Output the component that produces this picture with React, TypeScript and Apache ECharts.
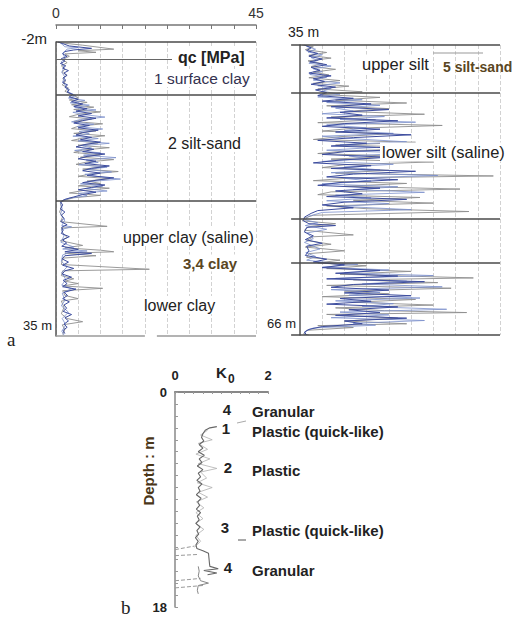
import React, { useEffect, useRef } from 'react';
import * as echarts from 'echarts';

const FONT = '"Liberation Sans", Arial, sans-serif';

// ---- panel a (left): CPT qc profile, depth -2 .. 35 m
const qcTicks = [0, 5, 10, 15, 20, 25, 30, 35, 40, 45];
const qcShownLabels = [0, 45];
const leftDepthRange = [-2, 35];
const leftLayerDepths = [-2, 4.67, 18];
const leftPointerDepth = 0.2;
const leftPointerEndQc = 26.1;
const leftBottomSegments = [[0, 20], [22.7, 45]];

const leftGray = [
  [0.3, -2], [1, -1.9], [6, -1.6], [13, -1.1], [5, -0.9], [9, -0.7], [2, -0.5], [3, -0.2], [1.5, 0.2], [2.5, 0.6],
  [1.2, 1], [2, 1.4], [1.4, 1.8], [2.4, 2.2], [1.5, 2.6], [2.1, 3], [1.4, 3.4], [2.8, 3.8], [2, 4.2], [3.5, 4.6],
  [5, 5], [3, 5.3], [7, 5.6], [3.5, 5.9], [8.5, 6.2], [4, 6.5], [10, 6.8], [5, 7.1], [3, 7.4], [8, 7.7],
  [4, 8], [10.5, 8.3], [5, 8.6], [3.5, 8.9], [9, 9.2], [4, 9.5], [11, 9.8], [6, 10.1], [3.5, 10.4], [9.5, 10.7],
  [5, 11], [12, 11.3], [6, 11.6], [4, 11.9], [10, 12.2], [5.5, 12.5], [13, 12.8], [7, 13.1], [4.5, 13.4], [11, 13.7],
  [6, 14], [14, 14.3], [8, 14.6], [5, 14.9], [12, 15.2], [7, 15.5], [10, 15.8], [5, 16.1], [12, 16.4], [6, 16.7],
  [3, 17], [10, 17.3], [4, 17.6], [2, 17.9], [1, 18.2], [1.2, 18.8], [0.8, 19.4], [1.5, 20], [1, 20.6], [11.5, 21.2],
  [1.2, 21.4], [1.5, 22], [2.5, 22.6], [1, 23], [6, 23.6], [2, 23.9], [10, 24.2], [13, 24.4], [2, 24.6], [9, 24.9],
  [1.5, 25.2], [1.2, 26], [21, 26.6], [1.5, 26.8], [1.2, 27.4], [4, 27.8], [2, 28.1], [5, 28.4], [1.5, 28.7], [10.5, 29],
  [1.5, 29.3], [2, 29.9], [5, 30.3], [1.2, 30.6], [1.8, 31.4], [1.2, 32.2], [2.5, 32.8], [6, 33.2], [1.4, 33.6], [2, 34.2],
  [1.5, 34.8],
];

const leftLight = [
  [1, -1.9], [2, -1.4], [5, -1.3], [2.5, -1.1], [1.5, -0.6], [2, 0], [1.2, 0.5], [1.8, 1.2], [1.3, 1.8], [2, 2.4],
  [1.5, 3], [2.3, 3.6], [2.8, 4.3], [4.5, 4.75], [2.8, 5.05], [6.5, 5.35], [3.2, 5.65], [7.5, 5.95], [4.2, 6.25], [9, 6.55],
  [3.8, 6.85], [6.5, 7.15], [11, 7.45], [5.5, 7.75], [3.5, 8.05], [8.5, 8.35], [4.8, 8.65], [10.5, 8.95], [5.2, 9.25], [7.5, 9.55],
  [3.8, 9.85], [9.5, 10.15], [5, 10.45], [12, 10.75], [6, 11.05], [8, 11.35], [4.2, 11.65], [10, 11.95], [6.2, 12.25], [13.5, 12.55],
  [6.8, 12.85], [9.5, 13.15], [5.2, 13.45], [11.5, 13.75], [7, 14.05], [12.5, 14.35], [6.5, 14.65], [9.5, 14.95], [14.5, 15.25], [8, 15.55],
  [5.5, 15.85], [10.5, 16.15], [6.8, 16.45], [11.5, 16.75], [5, 17.05], [7, 17.35], [3, 17.65], [1.5, 17.95], [1, 18.3], [1.4, 19],
  [1, 19.7], [2, 20.4], [1.3, 21.1], [3.5, 21.25], [1.2, 21.6], [1.8, 22.4], [1.1, 23.2], [4, 23.8], [1.5, 24.05], [7, 24.3],
  [3, 24.5], [1.5, 24.8], [1.2, 25.6], [2.5, 26.3], [1.3, 27], [2.2, 27.9], [1.3, 28.6], [3.5, 29.05], [1.4, 29.6], [2, 30.5],
  [1.2, 31.2], [2.8, 32], [1.4, 32.8], [2.2, 33.6], [1.3, 34.4], [1.8, 34.9],
];

const leftBlue = [
  [0.5, -2], [1.5, -1.8], [3, -1.5], [8, -1.2], [4, -1.0], [2, -0.8], [1.5, -0.5], [2.5, -0.2], [1.2, 0.1], [2, 0.4],
  [1, 0.7], [2.2, 1], [1.5, 1.3], [2.8, 1.6], [1.8, 1.9], [2.5, 2.2], [1.6, 2.5], [2.2, 2.8], [1.5, 3.1], [2.6, 3.4],
  [2, 3.7], [3, 4.0], [2.5, 4.3], [3.8, 4.6], [3, 4.9], [5, 5.2], [3.5, 5.5], [6, 5.8], [4, 6.1], [7, 6.4],
  [4.5, 6.7], [8, 7.0], [5, 7.3], [9, 7.6], [6, 7.9], [4, 8.2], [7.5, 8.5], [5, 8.8], [9.5, 9.1], [6, 9.4],
  [4.5, 9.7], [8, 10], [5.5, 10.3], [10, 10.6], [6.5, 10.9], [4.5, 11.2], [8.5, 11.5], [6, 11.8], [11, 12.1], [7, 12.4],
  [5, 12.7], [9, 13], [6.5, 13.3], [12, 13.6], [8, 13.9], [6, 14.2], [10, 14.5], [7, 14.8], [13, 15.1], [9, 15.4],
  [6, 15.7], [11, 16], [8, 16.3], [5, 16.6], [9, 16.9], [6, 17.2], [4, 17.5], [2, 17.8], [1, 18.1], [1.5, 18.5],
  [1, 19], [2, 19.4], [1.2, 19.8], [1.8, 20.2], [1.1, 20.6], [2.5, 21], [1.3, 21.3], [1.6, 21.7], [1.2, 22.1], [3, 22.5],
  [1.5, 22.9], [2.4, 23.3], [1.3, 23.7], [5, 24.1], [2, 24.4], [8, 24.6], [2, 24.9], [1.4, 25.3], [2.8, 25.7], [1.5, 26.1],
  [4, 26.5], [2, 26.8], [1.4, 27.2], [3.5, 27.6], [1.6, 28], [2.5, 28.4], [1.5, 28.8], [4.5, 29.1], [1.8, 29.5], [2.6, 29.9],
  [1.5, 30.3], [3, 30.7], [1.8, 31.1], [2.4, 31.5], [1.6, 31.9], [3.5, 32.3], [2, 32.7], [2.8, 33.1], [1.8, 33.5], [2.5, 33.9],
  [1.6, 34.3], [2, 34.7],
];

// ---- panel a (right): depth 35 .. 66 m
const rightDepthRange = [35, 66];
const rightQcMin = -2;
const rightLayerDepths = [35, 40.1, 53.6, 58.3, 66];

const rightGray = [
  [0.5, 35], [3, 35.2], [1.2, 35.5], [6, 35.8], [2, 36.1], [7, 36.4], [1.8, 36.7], [5, 37], [2.5, 37.3], [8, 37.6],
  [3, 37.9], [6.5, 38.2], [2, 38.5], [9, 38.8], [3, 39.1], [11, 39.4], [4, 39.7], [14, 40],
  [5, 40.3], [18, 40.6], [8, 40.9], [24, 41.2], [6, 41.5], [20, 41.8], [10, 42.1], [28, 42.4], [7, 42.7], [17, 43],
  [4, 43.3], [32, 43.6], [12, 43.9], [5, 44.2], [20, 44.5], [9, 44.8], [3, 45.1], [26, 45.4], [8, 45.7], [34, 46],
  [11, 46.3], [4, 46.6], [22, 46.9], [7, 47.2], [30, 47.5], [10, 47.8], [5, 48.1], [20, 48.4], [8, 48.7], [43.5, 49],
  [12, 49.2], [3, 49.5], [24, 49.8], [10, 50.1], [36, 50.4], [7, 50.7], [4, 51], [27, 51.3], [12, 51.6], [30, 51.9],
  [6, 52.2], [15, 52.5], [38, 52.8], [3, 53.2], [1, 53.5],
  [0.5, 53.8], [8, 54.1], [2, 54.4], [1, 54.8], [12, 55.3], [3, 55.5], [1.5, 55.9], [7, 56.3], [1.2, 56.6], [10, 57],
  [2, 57.3], [1.5, 57.7], [9, 58], [4, 58.3],
  [15, 58.6], [6, 58.9], [25, 59.2], [9, 59.5], [39, 59.9], [12, 60.1], [31, 60.4], [6, 60.7], [34, 61], [10, 61.3],
  [20, 61.6], [5, 61.9], [26, 62.2], [12, 62.5], [30, 62.8], [8, 63.1], [19, 63.4], [37.5, 63.6], [6, 63.8], [22, 64.2],
  [10, 64.5], [24, 64.8], [4, 65.0], [12, 65.2], [1.5, 65.5], [0.8, 65.9], [2, 66],
];

const rightLight = [
  [1.5, 35.15], [3.5, 35.45], [1.8, 35.75], [5, 36.05], [2.5, 36.35], [4, 36.65], [2, 36.95], [7, 37.25], [3, 37.55], [5, 37.85],
  [2.2, 38.15], [6, 38.45], [3, 38.75], [9, 39.05], [4, 39.35], [7, 39.65], [5, 39.95],
  [9, 40.25], [4, 40.55], [14, 40.85], [6, 41.15], [18, 41.45], [8, 41.75], [12, 42.05], [5, 42.35], [19, 42.65], [9, 42.95],
  [26, 43.25], [6, 43.55], [15, 43.85], [10, 44.15], [21, 44.45], [5, 44.75], [13, 45.05], [24, 45.35], [9, 45.65], [17, 45.95],
  [6, 46.25], [25, 46.55], [11, 46.85], [15, 47.15], [5, 47.45], [21, 47.75], [10, 48.05], [18, 48.35], [7, 48.65], [31, 48.95],
  [10, 49.25], [16, 49.55], [5, 49.85], [22, 50.15], [12, 50.45], [28, 50.75], [8, 51.05], [16, 51.35], [6, 51.65], [20, 51.95],
  [9, 52.25], [25, 52.6], [5, 52.9], [2, 53.3],
  [1.2, 53.7], [4, 54.0], [1.2, 54.3], [6, 54.7], [1.5, 55.1], [3, 55.7], [1, 56.1], [4.5, 56.8], [1.3, 57.2], [3.5, 57.6],
  [1.5, 58], [6, 58.25],
  [13, 58.45], [5, 58.75], [20, 59.05], [10, 59.35], [30, 59.65], [8, 59.95], [24, 60.25], [14, 60.55], [32, 60.85], [7, 61.15],
  [18, 61.45], [11, 61.75], [27, 62.05], [8, 62.35], [21, 62.65], [14, 62.95], [33, 63.25], [9, 63.55], [20, 63.85], [7, 64.15],
  [28, 64.45], [12, 64.75], [17, 64.95], [3, 65.25], [1.2, 65.6], [1, 66],
];

const rightBlue = [
  [1, 35], [2.5, 35.3], [1.5, 35.6], [4, 35.9], [2, 36.2], [5, 36.5], [2.2, 36.8], [6, 37.1], [2.5, 37.4], [4.5, 37.7],
  [2, 38], [7, 38.3], [3, 38.6], [5.5, 38.9], [2.5, 39.2], [8, 39.5], [3.5, 39.8], [6, 40.1],
  [4, 40.4], [12, 40.7], [5, 41], [16, 41.3], [7, 41.6], [20, 41.9], [9, 42.2], [14, 42.5], [6, 42.8], [22, 43.1],
  [10, 43.4], [5, 43.7], [18, 44], [8, 44.3], [25, 44.6], [12, 44.9], [4, 45.2], [15, 45.5], [7, 45.8], [28, 46.1],
  [10, 46.4], [5, 46.7], [20, 47], [9, 47.3], [3, 47.6], [16, 47.9], [7, 48.2], [26, 48.5], [12, 48.8], [6, 49.1],
  [22, 49.4], [9, 49.7], [4, 50], [18, 50.3], [8, 50.6], [14, 50.9], [6, 51.2], [24, 51.5], [10, 51.8], [5, 52.1],
  [12, 52.4], [4, 52.7], [2.5, 53], [1, 53.4],
  [0.8, 53.8], [2, 54.1], [8, 54.3], [1.5, 54.5], [1, 55], [3, 55.4], [1.2, 55.8], [5, 56.2], [1.5, 56.5], [2, 57],
  [1.2, 57.5], [6, 57.9], [3, 58.2],
  [10, 58.5], [5, 58.8], [18, 59.1], [8, 59.4], [22, 59.7], [6, 60], [28, 60.3], [12, 60.6], [7, 60.9], [20, 61.2],
  [10, 61.5], [25, 61.8], [9, 62.1], [16, 62.4], [6, 62.7], [22, 63], [11, 63.3], [18, 63.6], [8, 63.9], [24, 64.2],
  [10, 64.5], [14, 64.8], [5, 65.1], [2, 65.4], [1, 65.7], [1.5, 66],
];

// ---- panel b: K0 profile, depth 0 .. 18 m
const kRange = [0, 2];
const kShownLabels = [0, 2];
const bDepthRange = [0, 18];
const bShownDepths = [0, 18];

const kMain = [
  [0.9, 2.9], [0.75, 3.0], [0.65, 3.2], [0.6, 3.5], [0.57, 3.8], [0.62, 4.1], [0.52, 4.4], [0.6, 4.7], [0.5, 5.0], [0.63, 5.3],
  [0.52, 5.6], [0.58, 5.9], [0.48, 6.2], [0.6, 6.5], [0.5, 6.8], [0.55, 7.1], [0.47, 7.4], [0.58, 7.7], [0.5, 8.0], [0.54, 8.3],
  [0.46, 8.6], [0.56, 8.9], [0.49, 9.2], [0.53, 9.5], [0.46, 9.8], [0.55, 10.1], [0.48, 10.4], [0.52, 10.7], [0.45, 11.0], [0.54, 11.3],
  [0.47, 11.6], [0.51, 11.9], [0.44, 12.2], [0.5, 12.5], [0.45, 12.8], [0.47, 13.1], [0.6, 13.3], [0.72, 13.5], [0.73, 13.9], [0.74, 14.3],
  [0.75, 14.6], [0.93, 14.8], [0.62, 14.95], [0.9, 15.15], [0.7, 15.3],
];
const kSpiky = [
  [0.7, 3.2], [0.55, 3.6], [0.8, 4.0], [0.5, 4.3], [0.7, 4.8], [0.45, 5.2], [0.75, 5.6], [0.5, 6.0], [0.9, 6.4], [0.55, 6.7],
  [0.68, 7.2], [0.48, 7.6], [0.8, 8.0], [0.5, 8.4], [0.7, 8.8], [0.46, 9.2], [0.62, 9.7], [0.45, 10.1], [0.6, 10.6], [0.44, 11.0],
  [0.62, 11.5], [0.45, 12.0], [0.55, 12.5], [0.42, 13.0],
];
const kLower = [
  [0.5, 14.6], [0.52, 15.0], [0.5, 15.4], [0.55, 15.8], [0.72, 16.0], [0.5, 16.2], [0.48, 16.6], [0.5, 16.9],
];
const kDashes = [
  [[0, 13.2], [0.2, 13.05], [0.42, 12.9]],
  [[0, 13.7], [0.25, 13.65], [0.5, 13.6]],
  [[0, 15.8], [0.3, 15.7], [0.55, 15.6]],
  [[0, 16.4], [0.3, 16.3], [0.6, 16.2]],
];

const txt = (x: number, y: number, text: string, o: any = {}) => ({
  type: 'text',
  x,
  y,
  z: 100,
  rotation: o.rotation || 0,
  style: {
    text,
    fill: o.fill || '#222',
    fontSize: o.size || 16,
    fontWeight: o.weight || 'normal',
    fontFamily: o.family || FONT,
    textAlign: o.align || 'left',
    align: o.align || 'left',
    textVerticalAlign: 'middle',
    verticalAlign: 'middle',
    backgroundColor: o.bg,
    padding: o.bg ? [1, 2] : 0,
  },
});

const traceSeries = (data: number[][], axis: number, color: string, width: number, z: number, extra: any = {}) => ({
  type: 'line', xAxisIndex: axis, yAxisIndex: axis, data, showSymbol: false, symbol: 'none',
  lineStyle: { color, width }, z, silent: true, ...extra,
});

export default function App() {
  const ref = useRef<HTMLDivElement>(null);
  useEffect(() => {
    if (!ref.current) return;
    const chart = echarts.init(ref.current, null, { renderer: 'svg' });
    const pxPerQc = 200 / 45;
    const rightLeft = 300 + rightQcMin * pxPerQc;
    const bdr = { color: '#4a4a4a', width: 1.5, type: 'solid' };

    const option: any = {
      animation: false,
      textStyle: { fontFamily: FONT },
      grid: [
        { left: 56, top: 42, width: 200, height: 294 },
        { left: rightLeft, top: 45, width: 500 - rightLeft, height: 290 },
        { left: 175, top: 392, width: 93, height: 215 },
      ],
      xAxis: [
        {
          gridIndex: 0, type: 'value', position: 'top', offset: 17,
          min: qcTicks[0], max: qcTicks[qcTicks.length - 1], interval: 5,
          axisLine: { show: true, onZero: false, lineStyle: { color: '#777', width: 1.5 } },
          axisTick: { show: true, inside: true, length: 4, lineStyle: { color: '#777' } },
          axisLabel: {
            fontSize: 14, color: '#333', margin: 5,
            formatter: (v: number) => (qcShownLabels.includes(v) ? String(v) : ''),
          },
          splitLine: { show: true, lineStyle: { type: 'dashed', color: '#d2d2d2', width: 1 } },
        },
        {
          gridIndex: 1, type: 'value', position: 'top', min: rightQcMin, max: 45,
          axisLine: { show: false, onZero: false }, axisTick: { show: false }, axisLabel: { show: false },
          splitLine: { show: false },
        },
        {
          gridIndex: 2, type: 'value', position: 'top', min: kRange[0], max: kRange[1], interval: 0.2,
          axisLine: { show: true, onZero: false, lineStyle: { color: '#888', width: 2 } },
          axisTick: { show: true, inside: true, length: 2, lineStyle: { color: '#999' } },
          axisLabel: {
            fontSize: 13, fontWeight: 'bold', color: '#222', margin: 10,
            formatter: (v: number) => (kShownLabels.includes(v) ? String(v) : ''),
          },
          splitLine: { show: false },
        },
      ],
      yAxis: [
        {
          gridIndex: 0, type: 'value', inverse: true, min: leftDepthRange[0], max: leftDepthRange[1],
          axisLine: { show: true, onZero: true, lineStyle: { color: '#555', width: 1.5 } },
          axisTick: { show: false }, axisLabel: { show: false }, splitLine: { show: false },
        },
        {
          gridIndex: 1, type: 'value', inverse: true, min: rightDepthRange[0], max: rightDepthRange[1],
          axisLine: { show: true, onZero: true, lineStyle: { color: '#555', width: 1.5 } },
          axisTick: { show: false }, axisLabel: { show: false }, splitLine: { show: false },
        },
        {
          gridIndex: 2, type: 'value', inverse: true, min: bDepthRange[0], max: bDepthRange[1], interval: 1,
          axisLine: { show: true, onZero: false, lineStyle: { color: '#888', width: 1.5 } },
          axisTick: { show: true, inside: true, length: 3, lineStyle: { color: '#999' } },
          axisLabel: {
            fontSize: 13, fontWeight: 'bold', color: '#222', margin: 8,
            formatter: (v: number) => (bShownDepths.includes(v) ? String(v) : ''),
          },
          splitLine: { show: false },
        },
      ],
      series: [
        traceSeries(leftGray, 0, '#8e8e8e', 0.9, 2, {
          markLine: {
            silent: true, symbol: ['none', 'none'], label: { show: false }, z: 5,
            lineStyle: bdr,
            data: [
              ...leftLayerDepths.map((d) => ({ yAxis: d })),
              [{ coord: [0, leftPointerDepth], lineStyle: { color: '#666', width: 1.2, type: 'solid' } }, { coord: [leftPointerEndQc, leftPointerDepth] }],
              ...leftBottomSegments.map((s) => [
                { coord: [s[0], leftDepthRange[1]], lineStyle: { color: '#9a9a9a', width: 1.5, type: 'solid' } },
                { coord: [s[1], leftDepthRange[1]] },
              ]),
            ],
          },
        }),
        traceSeries(leftLight, 0, '#7b8fcc', 0.8, 2),
        traceSeries(leftBlue, 0, '#3d4d9e', 1, 3),
        traceSeries(rightGray, 1, '#8e8e8e', 0.9, 2, {
          markLine: {
            silent: true, symbol: ['none', 'none'], label: { show: false }, z: 1,
            lineStyle: { type: 'dashed', color: '#d2d2d2', width: 1 },
            data: qcTicks.slice(1).map((v) => ({ xAxis: v })),
          },
        }),
        traceSeries(rightLight, 1, '#7b8fcc', 0.8, 2),
        traceSeries(rightBlue, 1, '#3d4d9e', 1, 3, {
          markLine: {
            silent: true, symbol: ['none', 'none'], label: { show: false }, z: 5,
            lineStyle: bdr,
            data: rightLayerDepths.map((d) => [{ coord: [rightQcMin, d] }, { coord: [45, d] }]),
          },
        }),
        traceSeries(kSpiky, 2, '#b0b0b0', 0.8, 2),
        traceSeries(kMain, 2, '#666', 1.1, 3),
        traceSeries(kLower, 2, '#888', 1, 3),
        ...kDashes.map((d) => traceSeries(d, 2, '#999', 1, 2, { lineStyle: { color: '#999', width: 1, type: 'dashed' } })),
      ],
      graphic: [
        txt(47, 38, '-2m', { size: 15, align: 'right' }),
        txt(176, 57, 'qc [MPa]', { size: 16, weight: 'bold', bg: '#fff' }),
        txt(152, 78, '1 surface clay', { size: 15.5, fill: '#34314f', bg: '#fff' }),
        txt(166, 143, '2 silt-sand', { size: 16, bg: '#fff' }),
        txt(121, 237, 'upper clay (saline)', { size: 16, bg: '#fff' }),
        txt(181, 263, '3,4 clay', { size: 15, weight: 'bold', fill: '#5a4622', bg: '#fff' }),
        txt(142, 305, 'lower clay', { size: 16, bg: '#fff' }),
        txt(52, 325, '35 m', { size: 13, align: 'right' }),
        txt(7, 339, 'a', { size: 19, family: '"Liberation Serif", "DejaVu Serif", serif' }),
        txt(288, 32, '35 m', { size: 14 }),
        txt(360, 64, 'upper silt', { size: 16.5, bg: '#fff' }),
        txt(443, 67, '5 silt-sand', { size: 14, weight: 'bold', fill: '#5a4622' }),
        txt(380, 152, 'lower silt (saline)', { size: 16.5, bg: '#fff' }),
        txt(296, 323, '66 m', { size: 13, align: 'right' }),
        { type: 'line', z: 100, shape: { x1: 433, y1: 53, x2: 483, y2: 53 }, style: { stroke: '#999', lineWidth: 1 } },
        txt(216, 372, 'K', { size: 15, weight: 'bold' }),
        txt(228, 379, '0', { size: 12, weight: 'bold' }),
        txt(148, 471, 'Depth : m', { size: 15, weight: 'bold', fill: '#4a3618', align: 'center', rotation: Math.PI / 2 }),
        txt(227, 409, '4', { size: 15, weight: 'bold', align: 'center' }),
        txt(252, 411, 'Granular', { size: 15, weight: 'bold' }),
        txt(226, 428, '1', { size: 15, weight: 'bold', align: 'center' }),
        txt(252, 431, 'Plastic (quick-like)', { size: 15, weight: 'bold' }),
        txt(228, 467, '2', { size: 15, weight: 'bold', align: 'center' }),
        txt(252, 470, 'Plastic', { size: 15, weight: 'bold' }),
        txt(225, 527, '3', { size: 15, weight: 'bold', align: 'center' }),
        txt(252, 530, 'Plastic (quick-like)', { size: 15, weight: 'bold' }),
        txt(228, 567, '4', { size: 15, weight: 'bold', align: 'center' }),
        txt(252, 570, 'Granular', { size: 15, weight: 'bold' }),
        { type: 'line', z: 100, shape: { x1: 237, y1: 423, x2: 246, y2: 421 }, style: { stroke: '#aaa', lineWidth: 1 } },
        { type: 'line', z: 100, shape: { x1: 238, y1: 540, x2: 246, y2: 540 }, style: { stroke: '#555', lineWidth: 1 } },
        txt(121, 607, 'b', { size: 19, family: '"Liberation Serif", "DejaVu Serif", serif' }),
      ],
    };
    chart.setOption(option);
    return () => chart.dispose();
  }, []);
  return <div ref={ref} style={{ position: 'fixed', left: 0, top: 0, width: 513, height: 624, background: '#fff' }} />;
}
